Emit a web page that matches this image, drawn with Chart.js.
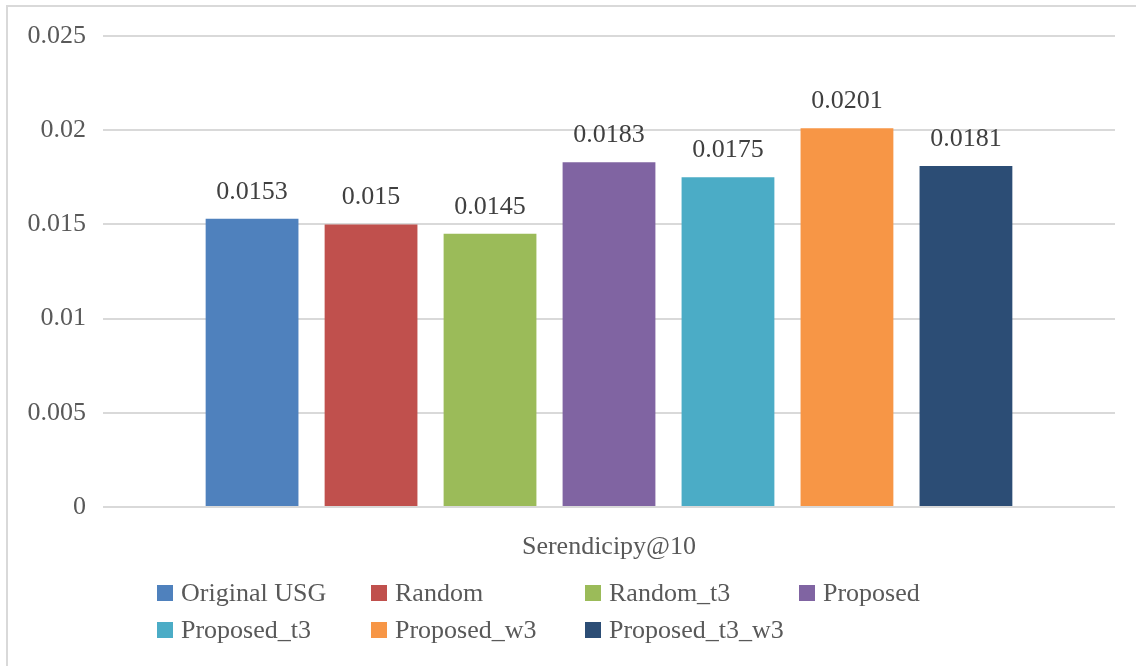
<!DOCTYPE html>
<html>
<head>
<meta charset="utf-8">
<script src="https://cdn.jsdelivr.net/npm/chart.js@4"></script>
<style>
  body { margin: 0; background: #fff; }
  #wrap { position: relative; width: 1136px; height: 666px; }
</style>
</head>
<body>
<div id="wrap"><canvas id="myChart"></canvas></div>
<script>
// データ
const categories = ['Serendicipy@10'];
const seriesNames = ['Original USG', 'Random', 'Random_t3', 'Proposed', 'Proposed_t3', 'Proposed_w3', 'Proposed_t3_w3'];
const seriesValues = [0.0153, 0.015, 0.0145, 0.0183, 0.0175, 0.0201, 0.0181];
const seriesColors = ['#4F81BD', '#C0504D', '#9BBB59', '#8064A2', '#4BACC6', '#F79646', '#2C4D75'];
const yTickLabels = ['0', '0.005', '0.01', '0.015', '0.02', '0.025'];

const FONT = '"Liberation Serif", "Times New Roman", serif';

// 外枠(上と左だけ)
const framePlugin = {
  id: 'frame',
  beforeDraw(chart) {
    const c = chart.ctx;
    c.save();
    c.strokeStyle = '#d9d9d9';
    c.lineWidth = 2;
    c.beginPath();
    c.moveTo(7, chart.height);
    c.lineTo(7, 6);
    c.lineTo(chart.width, 6);
    c.stroke();
    c.restore();
  }
};

// 棒の上に値を表示
const valueLabels = {
  id: 'valueLabels',
  afterDatasetsDraw(chart) {
    const c = chart.ctx;
    c.save();
    c.font = '26px ' + FONT;
    c.fillStyle = '#404040';
    c.textAlign = 'center';
    c.textBaseline = 'alphabetic';
    chart.data.datasets.forEach((ds, i) => {
      chart.getDatasetMeta(i).data.forEach((bar, j) => {
        c.fillText(String(ds.data[j]), bar.x, bar.y - 20);
      });
    });
    c.restore();
  }
};

// 凡例(4列のグリッド)
const gridLegend = {
  id: 'gridLegend',
  afterDraw(chart) {
    const c = chart.ctx;
    c.save();
    c.font = '26px ' + FONT;
    c.textBaseline = 'middle';
    c.textAlign = 'left';
    chart.data.datasets.forEach((ds, i) => {
      const x = 157 + (i % 4) * 214;
      const y = 593 + Math.floor(i / 4) * 37;
      c.fillStyle = ds.backgroundColor;
      c.fillRect(x, y - 8, 16, 16);
      c.fillStyle = '#595959';
      c.fillText(ds.label, x + 24, y + 1);
    });
    c.restore();
  }
};

const datasets = seriesNames.map((name, i) => ({
  label: name,
  data: [seriesValues[i]],
  backgroundColor: seriesColors[i],
  categoryPercentage: 0.823,
  barPercentage: 0.78
}));

const ctx = document.getElementById('myChart');

new Chart(ctx, {
  type: 'bar',
  data: {
    labels: categories,
    datasets: datasets
  },
  options: {
    responsive: true,
    maintainAspectRatio: false,
    animation: false,
    layout: {
      padding: { top: 36, right: 21, bottom: 0, left: 0 }
    },
    plugins: {
      legend: { display: false },
      tooltip: { enabled: false }
    },
    scales: {
      x: {
        grid: { display: false },
        border: { display: false },
        ticks: {
          color: '#595959',
          font: { family: FONT, size: 26 },
          padding: 17
        },
        afterFit(scale) { scale.height = 159; }
      },
      y: {
        min: 0,
        max: 0.025,
        grid: { color: '#d9d9d9', lineWidth: 2, drawTicks: false },
        border: { display: false },
        ticks: {
          stepSize: 0.005,
          color: '#595959',
          font: { family: FONT, size: 26 },
          padding: 17,
          callback: (v, i) => yTickLabels[i]
        },
        afterFit(scale) { scale.width = 103; }
      }
    }
  },
  plugins: [framePlugin, valueLabels, gridLegend]
});
</script>
</body>
</html>
